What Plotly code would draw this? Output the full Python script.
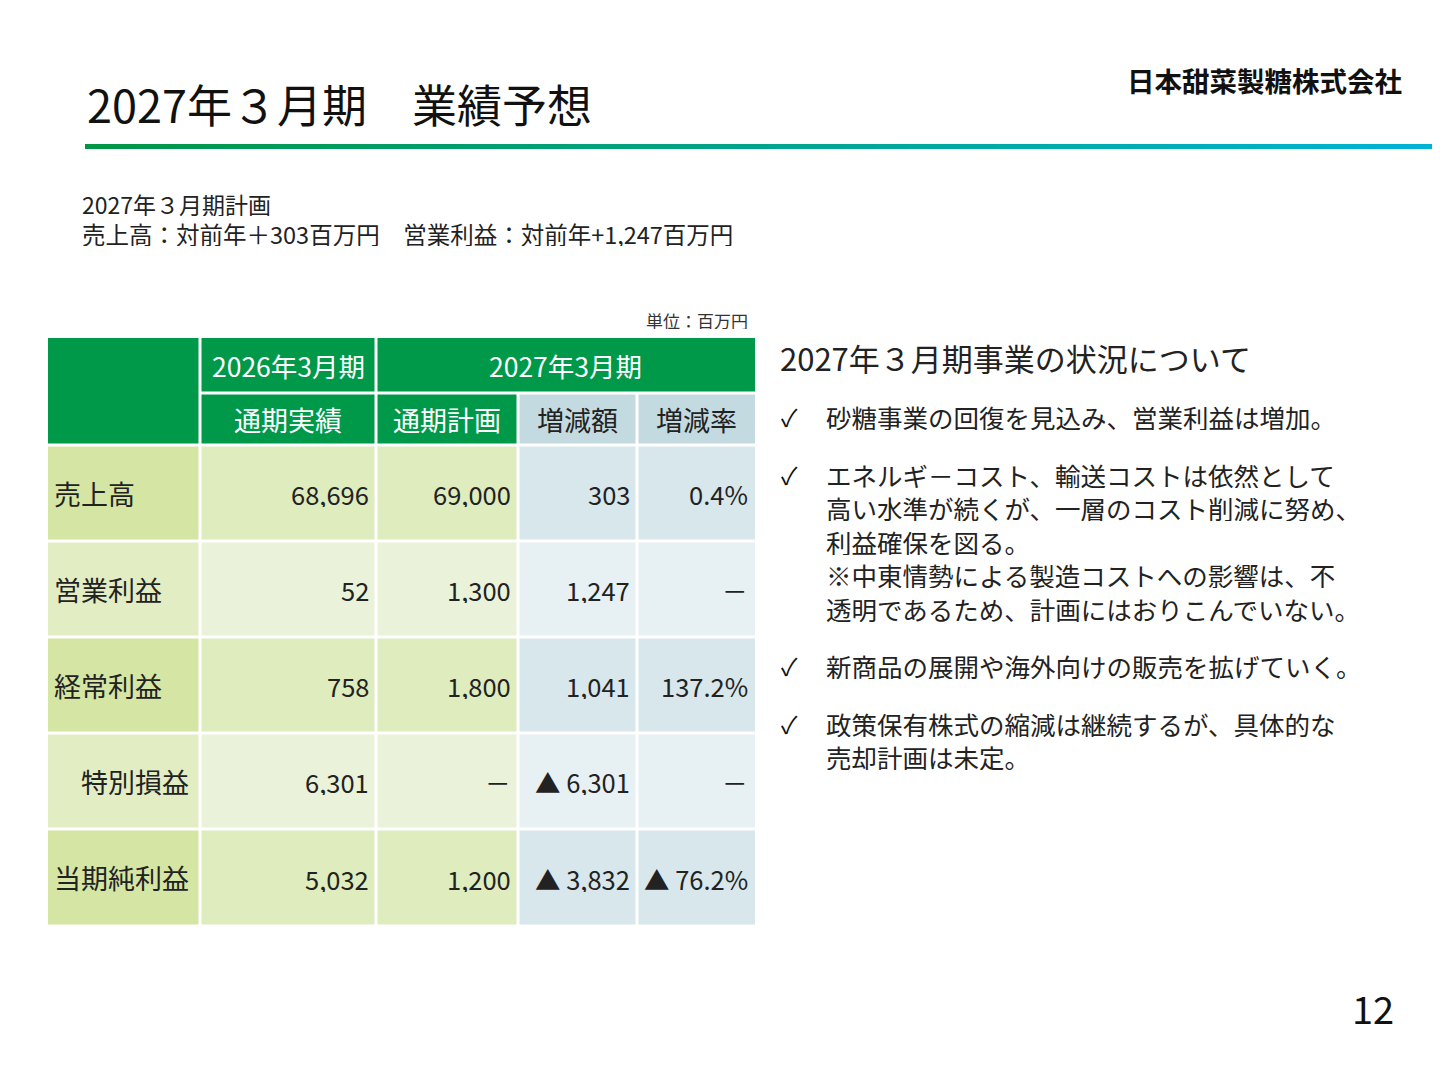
import plotly.graph_objects as go

title = "2027年３月期　業績予想"
company = "日本甜菜製糖株式会社"
summary = ["2027年３月期計画", "売上高：対前年＋303百万円　営業利益：対前年+1,247百万円"]
unit = "単位：百万円"
period_headers = ["2026年3月期", "2027年3月期"]
sub_headers = ["通期実績", "通期計画", "増減額", "増減率"]
row_labels = ["売上高", "営業利益", "経常利益", "　特別損益", "当期純利益"]
actual_2026 = ["68,696", "52", "758", "6,301", "5,032"]
plan_2027 = ["69,000", "1,300", "1,800", "－", "1,200"]
change_amt = ["303", "1,247", "1,041", "▲ 6,301", "▲ 3,832"]
change_rate = ["0.4%", "－", "137.2%", "－", "▲ 76.2%"]
right_heading = "2027年３月期事業の状況について"
bullets = [
    ["砂糖事業の回復を見込み、営業利益は増加。"],
    ["エネルギ－コスト、輸送コストは依然として", "高い水準が続くが、一層のコスト削減に努め、",
     "利益確保を図る。", "※中東情勢による製造コストへの影響は、不", "透明であるため、計画にはおりこんでいない。"],
    ["新商品の展開や海外向けの販売を拡げていく。"],
    ["政策保有株式の縮減は継続するが、具体的な", "売却計画は未定。"],
]
page_no = "12"

FONT = "Noto Sans CJK JP"
GREEN = "#00994a"
OFF = 8  # page body margin
fig = go.Figure()
shapes, ann = [], []

def rect(x0, y0, x1, y1, color):
    shapes.append(dict(type="rect", x0=x0 - OFF, y0=y0 - OFF, x1=x1 - OFF, y1=y1 - OFF,
                       fillcolor=color, line=dict(width=0), layer="below"))

def text(x, y, s, size, color="#222", xanchor="left", yanchor="middle"):
    ann.append(dict(x=x - OFF, y=y - OFF, text=s, showarrow=False, xanchor=xanchor, yanchor=yanchor,
                    height=int(size * 1.1), borderpad=0,
                    font=dict(family=FONT, size=size, color=color)))

# gradient rule
n = 80
x0, x1 = 85, 1460
def lerp(a, b, t):
    return int(a + (b - a) * t)
for i in range(n):
    t = i / (n - 1)
    c = "rgb(%d,%d,%d)" % (lerp(0, 0, t), lerp(150, 180, t), lerp(70, 215, t))
    rect(x0 + (x1 - x0) * i / n, 144, x0 + (x1 - x0) * (i + 1) / n + 1, 149, c)

text(86, 103, title, 45, "#111")
text(1403, 80, "<b>" + company + "</b>", 27.5, "#111", xanchor="right")
text(81, 203, summary[0], 23)
text(81, 233, summary[1], 23.5)
text(749, 320, unit, 17, "#333", xanchor="right")

cols = [48, 200, 376, 518, 637, 755]
rows = [338, 393, 445, 541, 637, 733, 829, 926]
g = 1.5
# header
rect(cols[0], rows[0], cols[1] - g, rows[2] - g, GREEN)
rect(cols[1] + g, rows[0], cols[2] - g, rows[1] - g, GREEN)
rect(cols[2] + g, rows[0], cols[5], rows[1] - g, GREEN)
rect(cols[1] + g, rows[1] + g, cols[2] - g, rows[2] - g, GREEN)
rect(cols[2] + g, rows[1] + g, cols[3] - g, rows[2] - g, GREEN)
rect(cols[3] + g, rows[1] + g, cols[4] - g, rows[2] - g, "#c3dbe0")
rect(cols[4] + g, rows[1] + g, cols[5], rows[2] - g, "#c3dbe0")
text((cols[1] + cols[2]) / 2, (rows[0] + rows[1]) / 2, period_headers[0], 26.5, "white", "center")
text((cols[2] + cols[5]) / 2, (rows[0] + rows[1]) / 2, period_headers[1], 26.5, "white", "center")
for j, h in enumerate(sub_headers):
    text((cols[j + 1] + cols[j + 2]) / 2, (rows[1] + rows[2]) / 2, h, 27,
         "white" if j < 2 else "#222", "center")

label_c = ["#d5e5a3", "#e2edc4"]
data_c = ["#deecbe", "#eaf3da"]
blue_c = ["#d8e7ec", "#e7f0f3"]
for i, lab in enumerate(row_labels):
    y0, y1 = rows[i + 2] + g, rows[i + 3] - g
    k = i % 2
    rect(cols[0], y0, cols[1] - g, y1, label_c[k])
    rect(cols[1] + g, y0, cols[2] - g, y1, data_c[k])
    rect(cols[2] + g, y0, cols[3] - g, y1, data_c[k])
    rect(cols[3] + g, y0, cols[4] - g, y1, blue_c[k])
    rect(cols[4] + g, y0, cols[5], y1, blue_c[k])
    ym = (y0 + y1) / 2
    text(cols[0] + 5, ym, lab, 27)
    for j, v in enumerate([actual_2026[i], plan_2027[i], change_amt[i], change_rate[i]]):
        text(cols[j + 2] - 6, ym, v, 25.5, "#222", "right")

text(779, 357, right_heading, 31)
by = 416
for b in bullets:
    text(780, by, "✓", 24, "#111")
    for ln in b:
        text(825, by, ln, 25.5)
        by += 33.5
    by += 24
text(1395, 1007, page_no, 38, "#111", "right")

fig.update_layout(width=1440, height=1080, margin=dict(l=0, r=0, t=0, b=0),
                  paper_bgcolor="white", plot_bgcolor="white", shapes=shapes, annotations=ann,
                  xaxis=dict(range=[0, 1440], visible=False, fixedrange=True),
                  yaxis=dict(range=[1080, 0], visible=False, fixedrange=True),
                  showlegend=False)
fig.write_html("out.html", config={"displayModeBar": False})
